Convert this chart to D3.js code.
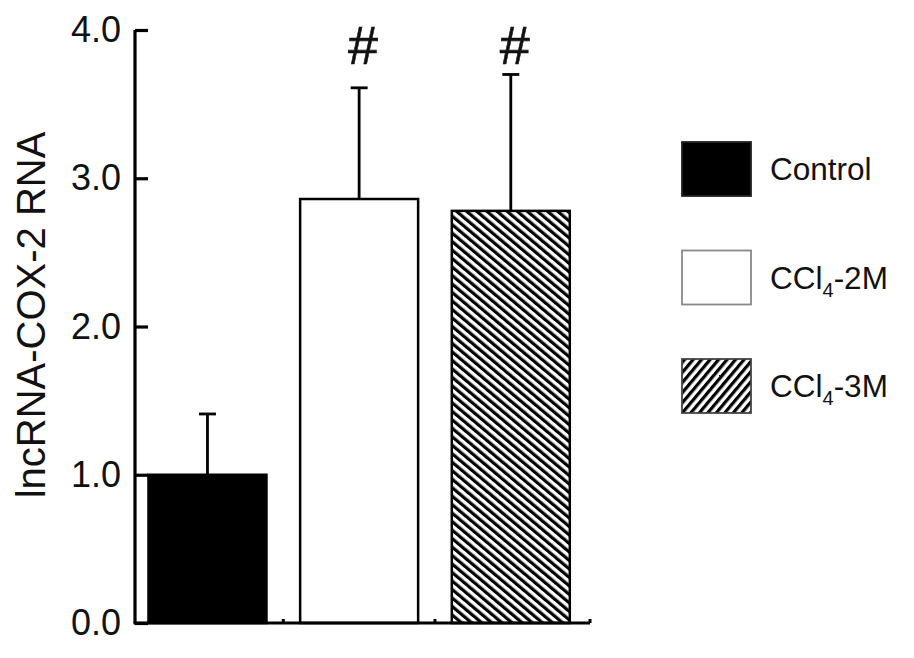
<!DOCTYPE html>
<html><head><meta charset="utf-8">
<script src="https://cdn.jsdelivr.net/npm/d3@7"></script>
<style>body{margin:0;background:#fff}svg{display:block}text{font-family:"Liberation Sans",Arial,sans-serif;fill:#111}</style>
</head><body>
<svg id="c" width="914" height="658"></svg>
<script>
const categories = ["Control", "CCl4-2M", "CCl4-3M"];
const means = [1.0, 2.86, 2.78];
const errors = [0.41, 0.75, 0.92];
const marks = ["", "#", "#"];
const yTicks = [0, 1, 2, 3, 4];
const yLabel = "lncRNA-COX-2 RNA";

const svg = d3.select("#c");
const defs = svg.append("defs");
function hatch(id, angle) {
  const p = defs.append("pattern").attr("id", id).attr("patternUnits", "userSpaceOnUse")
    .attr("width", 6.5).attr("height", 6.5).attr("patternTransform", `rotate(${angle})`);
  p.append("rect").attr("width", 6.5).attr("height", 6.5).attr("fill", "#fff");
  p.append("rect").attr("width", 3.2).attr("height", 6.5).attr("fill", "#000");
}
hatch("hBar", -50);
hatch("hLeg", 40);
const fills = ["#000", "#fff", "url(#hBar)"];
const legFills = ["#000", "#fff", "url(#hLeg)"];
const legStroke = ["#222", "#888", "#444"];

const x = d3.scaleBand().domain(categories).range([135, 590]).paddingInner(0.222).paddingOuter(0.111).align(0.4);
const y = d3.scaleLinear().domain([0, 4]).range([623, 30]);

// bars
svg.append("g").selectAll("rect").data(categories).join("rect")
  .attr("x", d => x(d)).attr("width", x.bandwidth())
  .attr("y", (d, i) => y(means[i])).attr("height", (d, i) => y(0) - y(means[i]))
  .attr("fill", (d, i) => fills[i]).attr("stroke", "#000").attr("stroke-width", 2.5);

// error bars
const eg = svg.append("g").attr("stroke", "#000").attr("stroke-width", 2.8);
categories.forEach((c, i) => {
  const cx = x(c) + x.bandwidth() / 2;
  eg.append("line").attr("x1", cx).attr("x2", cx).attr("y1", y(means[i])).attr("y2", y(means[i] + errors[i]));
  eg.append("line").attr("x1", cx - 8.5).attr("x2", cx + 8.5).attr("y1", y(means[i] + errors[i])).attr("y2", y(means[i] + errors[i]));
  if (marks[i]) svg.append("text").attr("x", cx + 4).attr("y", 64).attr("text-anchor", "middle")
    .attr("font-size", 54).attr("stroke", "#111").attr("stroke-width", 0.6).text(marks[i]);
});

// y axis
const ya = svg.append("g").attr("transform", "translate(135,0)")
  .call(d3.axisLeft(y).tickValues(yTicks).tickFormat(d3.format(".1f")).tickSize(-13).tickPadding(14));
ya.select(".domain").attr("d", `M0,${y(4)}V${y(0)}`).attr("stroke", "#000").attr("stroke-width", 3.2);
ya.selectAll(".tick line").attr("stroke", "#000").attr("stroke-width", 3.2);
ya.selectAll(".tick text").attr("font-size", 36).attr("font-family", "Liberation Sans, Arial, sans-serif").attr("fill", "#111");

// x axis
const xa = svg.append("g").attr("transform", `translate(0,${y(0)})`)
  .call(d3.axisBottom(x).tickSize(0).tickFormat(""));
xa.select(".domain").attr("d", `M133.5,0H590`).attr("stroke", "#000").attr("stroke-width", 3.2);
const step = x.step();
const bounds = categories.slice(1).map(c => x(c) - (step - x.bandwidth()) / 2).concat([590]);
xa.selectAll("line.b").data(bounds).join("line").attr("class", "b")
  .attr("x1", d => d).attr("x2", d => d).attr("y1", 0).attr("y2", -4)
  .attr("stroke", "#000").attr("stroke-width", 3);

// y label
svg.append("text").attr("transform", "translate(45,315) rotate(-90)").attr("text-anchor", "middle")
  .attr("font-size", 40).text(yLabel);

// legend
const lg = svg.append("g");
categories.forEach((c, i) => {
  const yy = 142 + i * 108.5;
  lg.append("rect").attr("x", 682).attr("y", yy).attr("width", 69).attr("height", 54)
    .attr("fill", legFills[i]).attr("stroke", legStroke[i]).attr("stroke-width", 1.8);
  const t = lg.append("text").attr("x", 770).attr("y", yy + 38).attr("font-size", 31.5);
  if (c.startsWith("CCl4")) {
    t.append("tspan").text("CCl");
    t.append("tspan").attr("font-size", 20).attr("dy", 8).text("4");
    t.append("tspan").attr("dy", -8).text(c.slice(4));
  } else t.text(c);
});
</script>
</body></html>
